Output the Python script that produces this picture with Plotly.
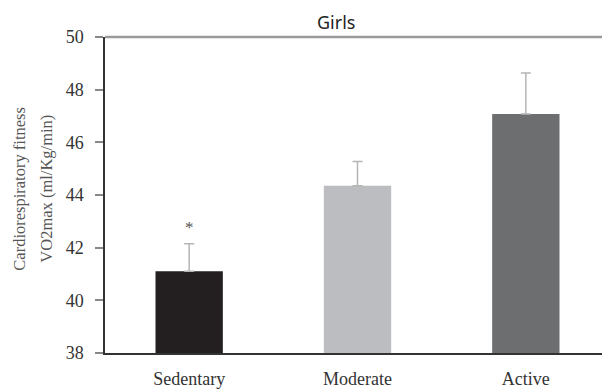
import plotly.graph_objects as go

categories = ["Sedentary", "Moderate", "Active"]
means = [41.1, 44.35, 47.08]
sd_plus = [1.05, 0.92, 1.55]
bar_colors = ["#231f20", "#bcbdc0", "#6d6e70"]
y_ticks = [38, 40, 42, 44, 46, 48, 50]
sig_marks = ["*", "", ""]
sig_y = [42.75, None, None]
y_title_lines = ["Cardiorespiratory fitness", "VO2max (ml/Kg/min)"]

serif = "Liberation Serif"

# the page body has an 8px margin: figure sized to sit inside the 610x389 window
W, H = 602, 381
L, T, B, R = 97, 29, 28, 0
pw, ph = W - L - R, H - T - B

fig = go.Figure()
fig.add_trace(go.Bar(
    x=categories, y=[m - 38 for m in means], base=38,
    marker=dict(color=bar_colors, line=dict(width=0)),
    width=0.4,
    error_y=dict(type="data", symmetric=False, array=sd_plus,
                 arrayminus=[0, 0, 0], color="#b5b5b5", thickness=1.5, width=5),
    hoverinfo="skip",
))

for c, s, yv in zip(categories, sig_marks, sig_y):
    if s:
        fig.add_annotation(x=c, y=yv, text=s, showarrow=False,
                           font=dict(family=serif, size=17, color="#555"),
                           xref="x", yref="y")

fig.add_annotation(xref="paper", yref="paper",
                   x=(328 - L) / pw, y=1 + (T - 14) / ph,
                   xanchor="center", yanchor="middle", text="Girls", showarrow=False,
                   font=dict(family="Noto Sans", size=18, color="#222"))

for i, (line, xc) in enumerate(zip(y_title_lines, [12, 39])):
    fig.add_annotation(xref="paper", yref="paper", x=(xc - L) / pw, y=0.52,
                       xanchor="center", yanchor="middle", textangle=-90,
                       text=line, showarrow=False,
                       font=dict(family=serif, size=16.5, color="#555"))

fig.add_shape(type="line", xref="paper", yref="paper", x0=0, x1=1, y0=1, y1=1,
              line=dict(color="#9a9a9a", width=2.5))

fig.update_layout(
    width=W, height=H,
    margin=dict(l=L, r=R, t=T, b=B, pad=0),
    paper_bgcolor="white", plot_bgcolor="white",
    showlegend=False,
    xaxis=dict(range=[-0.5, 2.5], showline=True, linecolor="#333", linewidth=1.5,
               ticks="", tickfont=dict(family=serif, size=18, color="#333"),
               ticklabelstandoff=9, showgrid=False, zeroline=False),
    yaxis=dict(range=[38, 50], tickvals=y_ticks, showline=True, linecolor="#333",
               linewidth=1.5, ticks="outside", ticklen=8, tickcolor="#888", tickwidth=2,
               tickfont=dict(family=serif, size=18, color="#333"),
               ticklabelstandoff=8,
               showgrid=False, zeroline=False),
)

fig.write_html("out.html")
